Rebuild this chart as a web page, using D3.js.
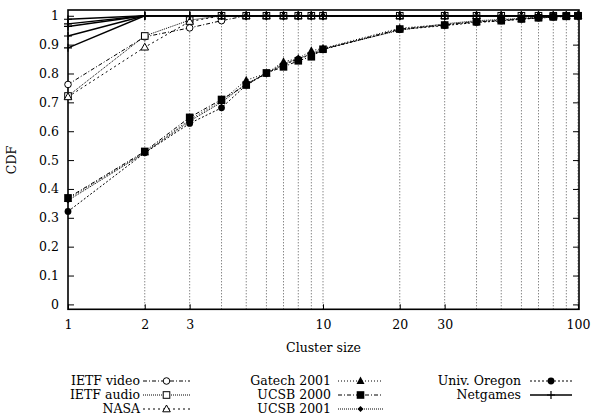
<!DOCTYPE html>
<html>
<head>
<meta charset="utf-8">
<script src="https://cdn.jsdelivr.net/npm/d3@7"></script>
<style>
  html, body { margin: 0; padding: 0; background: #fff; }
</style>
</head>
<body>
<svg id="chart" width="591" height="419"></svg>
<script>
// Cluster sizes sampled for every trace
const clusterSizes = [1, 2, 3, 4, 5, 6, 7, 8, 9, 10, 20, 30, 40, 50, 60, 70, 80, 90, 100];

// CDF values per trace
const ietfVideo  = [0.762, 0.927, 0.958, 0.983, 1, 1, 1, 1, 1, 1, 1, 1, 1, 1, 1, 1, 1, 1, 1];
const ietfAudio  = [0.722, 0.930, 0.985, 1, 1, 1, 1, 1, 1, 1, 1, 1, 1, 1, 1, 1, 1, 1, 1];
const nasa       = [0.719, 0.891, 0.980, 1, 1, 1, 1, 1, 1, 1, 1, 1, 1, 1, 1, 1, 1, 1, 1];
const gatech2001 = [0.365, 0.527, 0.640, 0.705, 0.777, 0.800, 0.841, 0.852, 0.879, 0.887, 0.957, 0.970, 0.980, 0.985, 0.990, 0.994, 0.997, 0.999, 1];
const ucsb2000   = [0.369, 0.530, 0.648, 0.710, 0.760, 0.802, 0.823, 0.844, 0.858, 0.884, 0.954, 0.968, 0.979, 0.983, 0.989, 0.993, 0.996, 0.998, 1];
const ucsb2001   = [0.360, 0.525, 0.635, 0.700, 0.765, 0.800, 0.835, 0.850, 0.870, 0.885, 0.950, 0.972, 0.983, 0.987, 0.991, 0.995, 0.997, 0.999, 1];
const univOregon = [0.322, 0.525, 0.627, 0.681, 0.760, 0.800, 0.830, 0.850, 0.865, 0.883, 0.952, 0.966, 0.977, 0.982, 0.988, 0.992, 0.995, 0.998, 1];
// Netgames: several traces drawn with one style
const netgamesA  = [0.988, 1, 1, 1, 1, 1, 1, 1, 1, 1, 1, 1, 1, 1, 1, 1, 1, 1, 1];
const netgamesB  = [0.972, 1, 1, 1, 1, 1, 1, 1, 1, 1, 1, 1, 1, 1, 1, 1, 1, 1, 1];
const netgamesC  = [0.963, 1, 1, 1, 1, 1, 1, 1, 1, 1, 1, 1, 1, 1, 1, 1, 1, 1, 1];
const netgamesD  = [0.930, 1, 1, 1, 1, 1, 1, 1, 1, 1, 1, 1, 1, 1, 1, 1, 1, 1, 1];
const netgamesE  = [0.889, 1, 1, 1, 1, 1, 1, 1, 1, 1, 1, 1, 1, 1, 1, 1, 1, 1, 1];

// Axis ticks
const xTickLabels = [1, 2, 3, 10, 20, 30, 100];
const xGridValues = [2, 3, 4, 5, 6, 7, 8, 9, 10, 20, 30, 40, 50, 60, 70, 80, 90, 100];
const yTickValues = [0, 0.1, 0.2, 0.3, 0.4, 0.5, 0.6, 0.7, 0.8, 0.9, 1];

const FONT = "'DejaVu Serif', serif";
const FONT_SIZE = "12.5px";

const svg = d3.select("#chart");
const x = d3.scaleLog().domain([1, 100]).range([68, 578]);
const y = d3.scaleLinear().domain([-0.017, 1.02]).range([309.3, 10]);
const [x0, x1] = [68, 579];
const [yTop, yBot] = [10, 309.3];

function styleText(sel) {
  return sel.style("font-family", FONT).style("font-size", FONT_SIZE).attr("fill", "#000");
}

// Vertical grid lines
svg.append("g").selectAll("line").data(xGridValues).join("line")
  .attr("x1", d => x(d)).attr("x2", d => x(d))
  .attr("y1", yBot).attr("y2", yTop)
  .attr("stroke", "#555").attr("stroke-width", 1)
  .attr("stroke-dasharray", "1,2");

// Axes with inward ticks
const yAxisL = svg.append("g").attr("transform", `translate(${x0},0)`)
  .call(d3.axisLeft(y).tickValues(yTickValues).tickSize(-6).tickPadding(9)
    .tickFormat(d => d === 0 ? "0" : d === 1 ? "1" : d3.format(".1f")(d)));
const yAxisR = svg.append("g").attr("transform", `translate(${x1},0)`)
  .call(d3.axisRight(y).tickValues(yTickValues).tickSize(-6).tickFormat(""));
const xAxis = svg.append("g").attr("transform", `translate(0,${yBot})`)
  .call(d3.axisBottom(x).tickValues(xTickLabels).tickSize(-5).tickPadding(11)
    .tickFormat(d3.format("d")));
[yAxisL, yAxisR, xAxis].forEach(g => {
  g.select(".domain").remove();
  g.selectAll("line").attr("stroke", "#000");
  styleText(g.selectAll("text"));
});

// Frame
svg.append("rect").attr("x", x0).attr("y", yTop)
  .attr("width", x1 - x0).attr("height", yBot - yTop)
  .attr("fill", "none").attr("stroke", "#000").attr("stroke-width", 1.6);

// Axis titles
styleText(svg.append("text").attr("x", (x0 + x1) / 2).attr("y", 352)
  .attr("text-anchor", "middle").text("Cluster size"));
styleText(svg.append("text").attr("transform", "translate(16,160) rotate(-90)")
  .attr("text-anchor", "middle").text("CDF"));

// Marker shapes
function drawMarker(g, kind, cx, cy) {
  if (kind === "openCircle") {
    g.append("circle").attr("cx", cx).attr("cy", cy).attr("r", 3.3)
      .attr("fill", "#fff").attr("stroke", "#000").attr("stroke-width", 1);
  } else if (kind === "openSquare") {
    g.append("rect").attr("x", cx - 3.3).attr("y", cy - 3.3).attr("width", 6.6).attr("height", 6.6)
      .attr("fill", "#fff").attr("stroke", "#000").attr("stroke-width", 1);
  } else if (kind === "openTriangle") {
    g.append("path").attr("d", `M${cx},${cy - 4}L${cx + 3.8},${cy + 2.8}L${cx - 3.8},${cy + 2.8}Z`)
      .attr("fill", "#fff").attr("stroke", "#000").attr("stroke-width", 1);
  } else if (kind === "filledTriangle") {
    g.append("path").attr("d", `M${cx},${cy - 4.5}L${cx + 4},${cy + 3}L${cx - 4},${cy + 3}Z`)
      .attr("fill", "#000");
  } else if (kind === "filledSquare") {
    g.append("rect").attr("x", cx - 3.8).attr("y", cy - 3.8).attr("width", 7.6).attr("height", 7.6)
      .attr("fill", "#000");
  } else if (kind === "filledDiamond") {
    g.append("path").attr("d", `M${cx},${cy - 3}L${cx + 3},${cy}L${cx},${cy + 3}L${cx - 3},${cy}Z`)
      .attr("fill", "#000");
  } else if (kind === "filledCircle") {
    g.append("circle").attr("cx", cx).attr("cy", cy).attr("r", 3.4).attr("fill", "#000");
  } else if (kind === "plus") {
    g.append("path").attr("d", `M${cx - 4},${cy}H${cx + 4}M${cx},${cy - 4}V${cy + 4}`)
      .attr("stroke", "#000").attr("stroke-width", 1.2);
  }
}

const series = [
  { name: "IETF video",   runs: [ietfVideo],  dash: "4,2,1,2", marker: "openCircle",     width: 1 },
  { name: "IETF audio",   runs: [ietfAudio],  dash: "1,1",     marker: "openSquare",     width: 1 },
  { name: "NASA",         runs: [nasa],       dash: "2,3",     marker: "openTriangle",   width: 1 },
  { name: "Gatech 2001",  runs: [gatech2001], dash: "1,2",     marker: "filledTriangle", width: 1 },
  { name: "UCSB 2000",    runs: [ucsb2000],   dash: "4,2,1,2", marker: "filledSquare",   width: 1 },
  { name: "UCSB 2001",    runs: [ucsb2001],   dash: "1,1",     marker: "filledDiamond",  width: 1 },
  { name: "Univ. Oregon", runs: [univOregon], dash: "2,2",     marker: "filledCircle",   width: 1 },
  { name: "Netgames",     runs: [netgamesA, netgamesB, netgamesC, netgamesD, netgamesE], dash: null, marker: "plus", width: 1.4 }
];

const line = d3.line().x(d => x(d[0])).y(d => y(d[1]));
const plot = svg.append("g");
series.forEach(s => {
  s.runs.forEach(vals => {
    const pts = clusterSizes.map((c, i) => [c, vals[i]]);
    plot.append("path").attr("d", line(pts))
      .attr("fill", "none").attr("stroke", "#000").attr("stroke-width", s.width)
      .attr("stroke-dasharray", s.dash);
    const mg = plot.append("g");
    pts.forEach(p => drawMarker(mg, s.marker, x(p[0]), y(p[1])));
  });
});

// Legend in three columns
const legendCols = [
  { textRight: 140, sample: [143, 190] },
  { textRight: 331, sample: [338, 383] },
  { textRight: 521, sample: [530, 572] }
];
const legendRows = [381, 395, 409];
const legendLayout = [[0, 0], [0, 1], [0, 2], [1, 0], [1, 1], [1, 2], [2, 0], [2, 1]];
const legend = svg.append("g");
series.forEach((s, i) => {
  const [c, r] = legendLayout[i];
  const col = legendCols[c], cy = legendRows[r];
  styleText(legend.append("text").attr("x", col.textRight).attr("y", cy)
    .attr("dy", "0.35em").attr("text-anchor", "end").text(s.name));
  legend.append("line").attr("x1", col.sample[0]).attr("x2", col.sample[1])
    .attr("y1", cy).attr("y2", cy)
    .attr("stroke", "#000").attr("stroke-width", s.width).attr("stroke-dasharray", s.dash);
  drawMarker(legend, s.marker, (col.sample[0] + col.sample[1]) / 2, cy);
});
</script>
</body>
</html>
